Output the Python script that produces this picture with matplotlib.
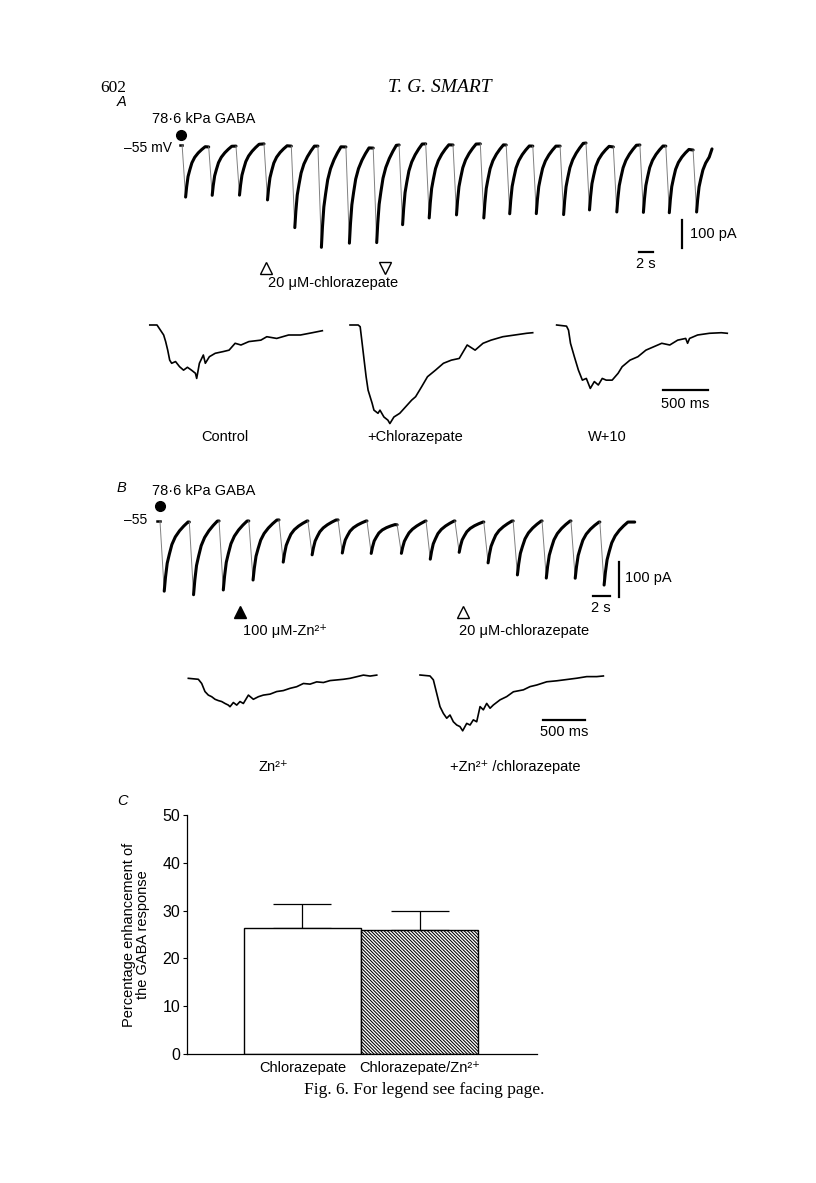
import numpy as np
import matplotlib
matplotlib.use('Agg')
import matplotlib.pyplot as plt

plt.rcParams['font.family'] = ['Liberation Sans', 'DejaVu Sans']
plt.rcParams['hatch.linewidth'] = 0.75

# ---- data ----
# A: GABA responses (onset in s, peak and recovered level in pA)
a_onset = [0.3, 4.1, 8.0, 12.0, 15.9, 19.7, 23.7, 27.6, 31.3, 35.1,
           39.0, 42.9, 46.6, 50.4, 54.3, 58.0, 61.9, 65.7, 69.4, 73.3]
a_peak = [-185, -180, -180, -195, -295, -365, -350, -350, -285, -260,
          -250, -260, -245, -245, -250, -230, -240, -240, -240, -240]
a_top = [-7, -4, 4, -4, -4, -7, -11, 0, 4, 0, 4, 0, -4, -4, 7, -7, 0, -4, -18, -14]
a_end = 76.0
a_drug_on, a_drug_off = 12.3, 29.3

# B: GABA responses
b_onset = [0.35, 3.8, 7.3, 10.8, 14.35, 17.75, 21.3, 24.7, 28.25, 31.65,
           35.05, 38.45, 41.9, 45.3, 48.7, 52.1]
b_peak = [-200, -211, -197, -169, -117, -97, -91, -91, -94, -109,
          -89, -120, -154, -163, -163, -183]
b_top = [-3, 0, 0, 3, 0, 3, 0, -11, 0, 0, -3, 0, 0, 0, -3, -3]
b_end = 56.2
b_zn_on, b_chl_on = 9.8, 36.0

# typical response profile (time after onset in s, fraction of peak)
shape_t = [0, 0.5, 0.65, 0.85, 1.1, 1.4, 1.8, 2.3, 2.8, 3.3]
shape_f = [0, 1.0, 0.8, 0.6, 0.47, 0.33, 0.22, 0.13, 0.06, 0.0]

# A expanded sweeps (ms, pA)
ctl_t = [20, 100, 174, 196, 219, 241, 263, 306, 351, 395, 438, 483, 527, 541, 571, 615,
         637, 682, 747, 836, 901, 968, 1033, 1121, 1254, 1320, 1430, 1562, 1694, 1826, 1937]
ctl_i = [0, 0, -35, -58, -88, -123, -134, -128, -146, -158, -148, -158, -169, -187, -134, -105,
         -134, -111, -99, -93, -88, -64, -70, -58, -53, -41, -47, -35, -35, -27, -20]
chl_t = [0, 91, 113, 135, 157, 179, 201, 246, 266, 311, 333, 377, 421, 443, 488, 553, 619,
         685, 729, 796, 861, 950, 1038, 1126, 1214, 1302, 1390, 1478, 1567, 1698, 1831, 1963, 2030]
chl_i = [0, 0, -6, -64, -123, -181, -228, -274, -298, -309, -298, -322, -333, -345, -322, -309, -286,
         -263, -251, -216, -181, -158, -134, -123, -117, -70, -88, -64, -53, -41, -35, -29, -27]
w10_t = [7, 117, 139, 161, 204, 249, 293, 337, 381, 426, 470, 514, 558, 624, 690, 735, 822,
         910, 999, 1087, 1175, 1264, 1352, 1441, 1462, 1484, 1573, 1705, 1837, 1903]
w10_i = [0, -4, -18, -64, -111, -158, -193, -187, -222, -198, -210, -187, -193, -193, -169, -146, -123,
         -111, -88, -76, -64, -70, -53, -47, -64, -47, -35, -29, -27, -29]

# B expanded sweeps (ms, pA)
zn_t = [4, 123, 163, 202, 242, 282, 322, 361, 401, 441, 480, 500, 540, 580, 619, 659, 719, 778,
        838, 897, 977, 1056, 1135, 1215, 1294, 1374, 1453, 1532, 1612, 1691, 1771, 1850, 1929,
        2009, 2088, 2168, 2247]
zn_i = [-1, -4, -17, -42, -53, -58, -66, -70, -73, -79, -84, -89, -76, -84, -73, -79, -53, -66,
        -58, -53, -50, -42, -39, -32, -27, -17, -19, -12, -14, -8, -6, -4, -1, 4, 9, 6, 9]
znc_t = [0, 119, 159, 199, 238, 278, 318, 357, 397, 437, 476, 508, 556, 596, 635, 675, 715, 754,
         794, 834, 873, 953, 1032, 1112, 1231, 1310, 1390, 1509, 1628, 1747, 1866, 1985, 2104, 2183]
znc_i = [0, -3, -15, -57, -98, -119, -134, -124, -145, -155, -160, -173, -150, -155, -139, -145, -98,
         -108, -88, -103, -93, -77, -67, -52, -46, -36, -31, -21, -18, -14, -10, -5, -5, -3]

# C: percentage enhancement of the GABA response
c_labels = ['Chlorazepate', 'Chlorazepate/Zn\u00b2\u207a']
c_vals = [26.4, 26.0]
c_err = [5.0, 3.9]

# ---- layout helpers (pixel boxes on the 816x1183 page) ----
W, H = 816, 1183
fig = plt.figure(figsize=(W / 100, H / 100), dpi=100)
FS = 10.5


def px_axes(left, top, right, bottom):
    return fig.add_axes([left / W, 1 - bottom / H, (right - left) / W, (bottom - top) / H])


def trace_axes(left, top, right, bottom, x0, y0, sx, sy):
    ax = px_axes(left, top, right, bottom)
    ax.set_xlim((left - x0) / sx, (right - x0) / sx)
    ax.set_ylim(-(bottom - y0) / sy, -(top - y0) / sy)
    ax.axis('off')
    return ax


def ftext(x, y, s, **kw):
    fig.text(x / W, 1 - y / H, s, **kw)


def draw_sweep(ax, onsets, peaks, tops, t_end):
    level = 0.0
    ax.plot([onsets[0] - 0.3, onsets[0]], [level, level], color='k', lw=1.8)
    for i in range(len(onsets)):
        t0 = onsets[i]
        t1 = onsets[i + 1] if i + 1 < len(onsets) else t_end
        T = t1 - t0
        rel = [r for r in shape_t if r < T] + [T]
        fr = np.array(shape_f[:len(rel) - 1] + [0.0])
        rel = np.array(rel)
        y = level + (tops[i] - level) * rel / T + (peaks[i] - level) * fr
        t = t0 + rel
        ax.plot(t[:2], y[:2], color='0.5', lw=0.7)
        ax.plot(t[1:], y[1:], color='k', lw=2.2, solid_joinstyle='round', solid_capstyle='round')
        level = tops[i]


# header
ftext(100, 88, '602', family='Liberation Serif', fontsize=12.5, va='center')
ftext(440, 88, 'T. G. SMART', family='Liberation Serif', style='italic', fontsize=14,
      ha='center', va='center')

# ---- panel A ----
ftext(117, 102, 'A', style='italic', fontsize=FS, va='center')
ftext(152, 119, '78\u00b76 kPa GABA', fontsize=FS, va='center')
ftext(172, 148, '\u201355 mV', fontsize=10, ha='right', va='center')

axa = trace_axes(170, 115, 730, 295, 180, 145, 7.0, 0.28)
draw_sweep(axa, a_onset, a_peak, a_top, a_end)
axa.plot([0.14], [36], 'o', color='k', ms=7)
axa.plot([a_drug_on], [-439], marker='^', ms=8.5, mfc='white', mec='k', mew=1, ls='none')
axa.plot([a_drug_off], [-439], marker='v', ms=8.5, mfc='white', mec='k', mew=1, ls='none')
axa.text(12.6, -493, '20 \u03bcM-chlorazepate', fontsize=FS, va='center')
axa.plot([71.7, 71.7], [-268, -368], color='k', lw=1.6)
axa.text(72.8, -318, '100 pA', fontsize=FS, va='center')
axa.plot([65.6, 67.6], [-382, -382], color='k', lw=1.6)
axa.text(66.6, -425, '2 s', fontsize=FS, ha='center', va='center')

# A expanded responses
sxa, sya = 0.09, 1 / 3.5
ax1 = trace_axes(140, 310, 335, 430, 148, 325, sxa, sya)
ax1.plot(ctl_t, ctl_i, color='k', lw=1.2)
ax2 = trace_axes(340, 310, 545, 430, 350, 325, sxa, sya)
ax2.plot(chl_t, chl_i, color='k', lw=1.2)
ax3 = trace_axes(548, 310, 740, 430, 556, 325, sxa, sya)
ax3.plot(w10_t, w10_i, color='k', lw=1.2)
ax3.plot([1190, 1690], [-227.5, -227.5], color='k', lw=1.6)
ax3.text(1440, -276, '500 ms', fontsize=FS, ha='center', va='center')
ftext(225, 437, 'Control', fontsize=FS, ha='center', va='center')
ftext(415, 437, '+Chlorazepate', fontsize=FS, ha='center', va='center')
ftext(607, 437, 'W+10', fontsize=FS, ha='center', va='center')

# ---- panel B ----
ftext(117, 488, 'B', style='italic', fontsize=FS, va='center')
ftext(152, 491, '78\u00b76 kPa GABA', fontsize=FS, va='center')
ftext(147, 520, '\u201355', fontsize=10, ha='right', va='center')

axb = trace_axes(130, 495, 690, 645, 157, 521, 8.5, 0.35)
draw_sweep(axb, b_onset, b_peak, b_top, b_end)
axb.plot([0.35], [43], 'o', color='k', ms=7)
axb.plot([b_zn_on], [-260], marker='^', ms=8.5, color='k', ls='none')
axb.plot([b_chl_on], [-260], marker='^', ms=8.5, mfc='white', mec='k', mew=1, ls='none')
axb.text(10.1, -314, '100 \u03bcM-Zn\u00b2\u207a', fontsize=FS, va='center')
axb.text(35.5, -314, '20 \u03bcM-chlorazepate', fontsize=FS, va='center')
axb.plot([54.35, 54.35], [-117, -217], color='k', lw=1.6)
axb.text(55.1, -163, '100 pA', fontsize=FS, va='center')
axb.plot([51.3, 53.3], [-214, -214], color='k', lw=1.6)
axb.text(52.2, -249, '2 s', fontsize=FS, ha='center', va='center')

# B expanded responses
sxb, syb = 0.084, 1 / 3.1
ax4 = trace_axes(180, 665, 400, 745, 188, 678, sxb, syb)
ax4.plot(zn_t, zn_i, color='k', lw=1.2)
ax5 = trace_axes(410, 665, 615, 745, 420, 675, sxb, syb)
ax5.plot(znc_t, znc_i, color='k', lw=1.2)
ax5.plot([1464, 1964], [-139.5, -139.5], color='k', lw=1.6)
ax5.text(1714, -177, '500 ms', fontsize=FS, ha='center', va='center')
ftext(273, 767, 'Zn\u00b2\u207a', fontsize=FS, ha='center', va='center')
ftext(515, 767, '+Zn\u00b2\u207a /chlorazepate', fontsize=FS, ha='center', va='center')

# ---- panel C ----
ftext(117, 801, 'C', style='italic', fontsize=FS, va='center')
axc = px_axes(187, 815, 537, 1054)
c_pos = np.arange(len(c_vals))
bars = axc.bar(c_pos, c_vals, width=1.0, color='white', edgecolor='k', linewidth=1.0, zorder=2)
bars[1].set_hatch('\\' * 10)
axc.errorbar(c_pos, c_vals, yerr=[[0, 0], c_err], fmt='none', ecolor='k',
             elinewidth=0.9, capsize=21, capthick=0.9, zorder=1)
axc.set_xlim(-0.987, 2.004)
axc.set_ylim(0, 50)
axc.spines['top'].set_visible(False)
axc.spines['right'].set_visible(False)
axc.spines['left'].set_linewidth(0.9)
axc.spines['bottom'].set_linewidth(0.9)
axc.set_yticks([0, 10, 20, 30, 40, 50])
axc.tick_params(axis='y', direction='out', length=3, width=0.8, pad=2, labelsize=11.5)
axc.set_xticks(c_pos)
axc.set_xticklabels(c_labels)
axc.tick_params(axis='x', length=0, pad=5, labelsize=FS)
axc.set_ylabel('Percentage enhancement of\nthe GABA response', fontsize=10.5, linespacing=1.05)
axc.yaxis.set_label_coords(-0.105, 0.5)

ftext(424, 1090, 'Fig. 6. For legend see facing page.', family='Liberation Serif',
      fontsize=12.5, ha='center', va='center')

fig.savefig('out.png', dpi=100)
